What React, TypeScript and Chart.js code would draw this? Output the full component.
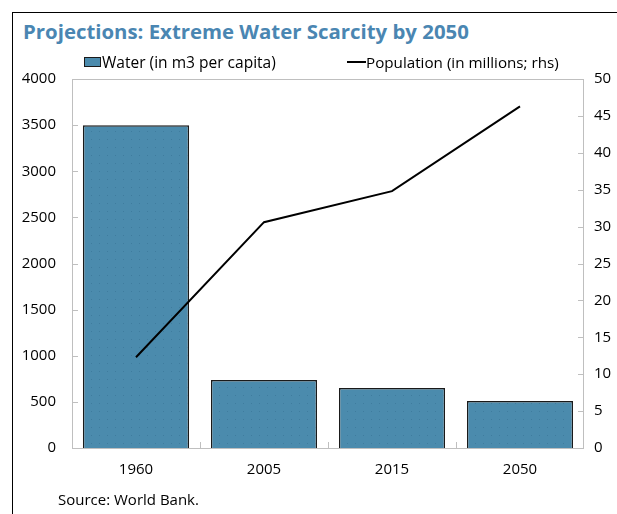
import React, { useEffect, useRef } from "react";
import { Chart, registerables } from "chart.js";

Chart.register(...registerables);

const categories = ["1960", "2005", "2015", "2050"];
const waterValues = [3500, 737, 650, 510];
const populationValues = [12.3, 30.6, 34.8, 46.3];
const leftTicks = [0, 500, 1000, 1500, 2000, 2500, 3000, 3500, 4000];
const rightTicks = [0, 5, 10, 15, 20, 25, 30, 35, 40, 45, 50];

const FONT = "'Open Sans', 'Noto Sans', sans-serif";
const BAR_COLOR = "#4b8bad";

let measureCtx: CanvasRenderingContext2D | null = null;
function fitSize(text: string, weight: number, target: number): number {
  if (!measureCtx) {
    const c = document.createElement("canvas");
    measureCtx = c.getContext("2d");
  }
  if (!measureCtx) return 14;
  measureCtx.font = `${weight} 20px ${FONT}`;
  const w = measureCtx.measureText(text).width;
  return (20 * target) / w;
}

function makePattern(): CanvasPattern | string {
  const c = document.createElement("canvas");
  c.width = 8;
  c.height = 8;
  const ctx = c.getContext("2d");
  if (!ctx) return BAR_COLOR;
  ctx.fillStyle = BAR_COLOR;
  ctx.fillRect(0, 0, 8, 8);
  ctx.fillStyle = "#3f7c9e";
  ctx.fillRect(3, 3, 1, 1);
  const p = ctx.createPattern(c, "repeat");
  return p || BAR_COLOR;
}

const framePlugin = {
  id: "framePlugin",
  afterDraw(chart: any) {
    const { ctx, chartArea } = chart;
    const { left, right, top, bottom } = chartArea;
    ctx.save();
    ctx.strokeStyle = "#bfbfbf";
    ctx.lineWidth = 1;
    ctx.strokeRect(left + 0.5, top + 0.5, right - left - 1, bottom - top);
    const y = chart.scales.y;
    const y1 = chart.scales.y1;
    const x = chart.scales.x;
    ctx.beginPath();
    leftTicks.forEach((v) => {
      const py = Math.round(y.getPixelForValue(v)) + 0.5;
      ctx.moveTo(left, py);
      ctx.lineTo(left + 6, py);
    });
    rightTicks.forEach((v) => {
      const py = Math.round(y1.getPixelForValue(v)) + 0.5;
      ctx.moveTo(right - 6, py);
      ctx.lineTo(right, py);
    });
    for (let i = 0; i < categories.length - 1; i++) {
      const px = Math.round((x.getPixelForValue(i) + x.getPixelForValue(i + 1)) / 2) + 0.5;
      ctx.moveTo(px, bottom);
      ctx.lineTo(px, bottom - 6);
    }
    ctx.stroke();
    ctx.restore();
  },
};

const TITLE = "Projections: Extreme Water Scarcity by 2050";
const WATER_LABEL = "Water (in m3 per capita)";
const POP_LABEL = "Population (in millions; rhs)";

export default function App() {
  const ref = useRef<HTMLCanvasElement | null>(null);
  useEffect(() => {
    if (!ref.current) return;
    const chart = new Chart(ref.current, {
      type: "bar",
      data: {
        labels: categories,
        datasets: [
          {
            type: "line",
            label: POP_LABEL,
            data: populationValues,
            yAxisID: "y1",
            borderColor: "#000000",
            borderWidth: 2,
            pointRadius: 0,
            tension: 0,
            order: 0,
          } as any,
          {
            type: "bar",
            label: WATER_LABEL,
            data: waterValues,
            yAxisID: "y",
            backgroundColor: makePattern(),
            borderColor: "#1a1a1a",
            borderWidth: { top: 1.5, left: 1.5, right: 1.5, bottom: 0 },
            borderSkipped: false,
            categoryPercentage: 1,
            barPercentage: 0.83,
            order: 1,
          } as any,
        ],
      },
      options: {
        responsive: false,
        animation: false,
        layout: { padding: { left: 0, right: 0, top: 79, bottom: 26 } },
        plugins: {
          legend: { display: false },
          title: { display: false },
          tooltip: { enabled: false },
        },
        scales: {
          x: {
            grid: { display: false, drawTicks: false },
            border: { display: false },
            ticks: { color: "#000", font: { family: FONT, size: 15 }, padding: 13 },
            afterFit: (s: any) => {
              s.height = 40;
            },
          },
          y: {
            position: "left",
            min: 0,
            max: 4000,
            grid: { display: false, drawTicks: false },
            border: { display: false },
            ticks: {
              stepSize: 500,
              color: "#000",
              font: { family: FONT, size: 15 },
              padding: 16,
              callback: (v: any) => String(v),
            },
            afterFit: (s: any) => {
              s.width = 72;
            },
          },
          y1: {
            position: "right",
            min: 0,
            max: 50,
            grid: { display: false, drawTicks: false },
            border: { display: false },
            ticks: { stepSize: 5, color: "#000", font: { family: FONT, size: 15 }, padding: 10 },
            afterFit: (s: any) => {
              s.width = 33;
            },
          },
        },
      } as any,
      plugins: [framePlugin],
    });
    return () => chart.destroy();
  }, []);

  const titleSize = fitSize(TITLE, 700, 446);
  const waterSize = fitSize(WATER_LABEL, 400, 174);
  const popSize = fitSize(POP_LABEL, 400, 193);

  return (
    <div style={{ position: "fixed", left: 0, top: 0, width: 617, height: 514, background: "#fff", overflow: "hidden", fontFamily: FONT }}>
      <div style={{ position: "absolute", left: 12, top: 12, right: -2, bottom: -2, borderTop: "1px solid #000", borderLeft: "1px solid #000" }} />
      <div style={{ position: "absolute", left: 23, top: 31, fontSize: titleSize, lineHeight: "0px", fontWeight: 700, color: "#4a86b2", whiteSpace: "nowrap" }}>
        {TITLE}
      </div>
      <canvas ref={ref} width={617} height={514} style={{ position: "absolute", left: 0, top: 0 }} />
      <div style={{ position: "absolute", left: 84, top: 57, width: 17, height: 10, background: BAR_COLOR, border: "1px solid #1a1a1a", boxSizing: "border-box" }} />
      <div style={{ position: "absolute", left: 102, top: 62, fontSize: waterSize, lineHeight: "0px", color: "#000", whiteSpace: "nowrap" }}>
        {WATER_LABEL}
      </div>
      <div style={{ position: "absolute", left: 347, top: 61, width: 19, height: 2, background: "#000" }} />
      <div style={{ position: "absolute", left: 366, top: 62, fontSize: popSize, lineHeight: "0px", color: "#000", whiteSpace: "nowrap" }}>
        {POP_LABEL}
      </div>
      <div style={{ position: "absolute", left: 58, top: 499, fontSize: 15, lineHeight: "0px", color: "#000", whiteSpace: "nowrap" }}>Source: World Bank.</div>
    </div>
  );
}
